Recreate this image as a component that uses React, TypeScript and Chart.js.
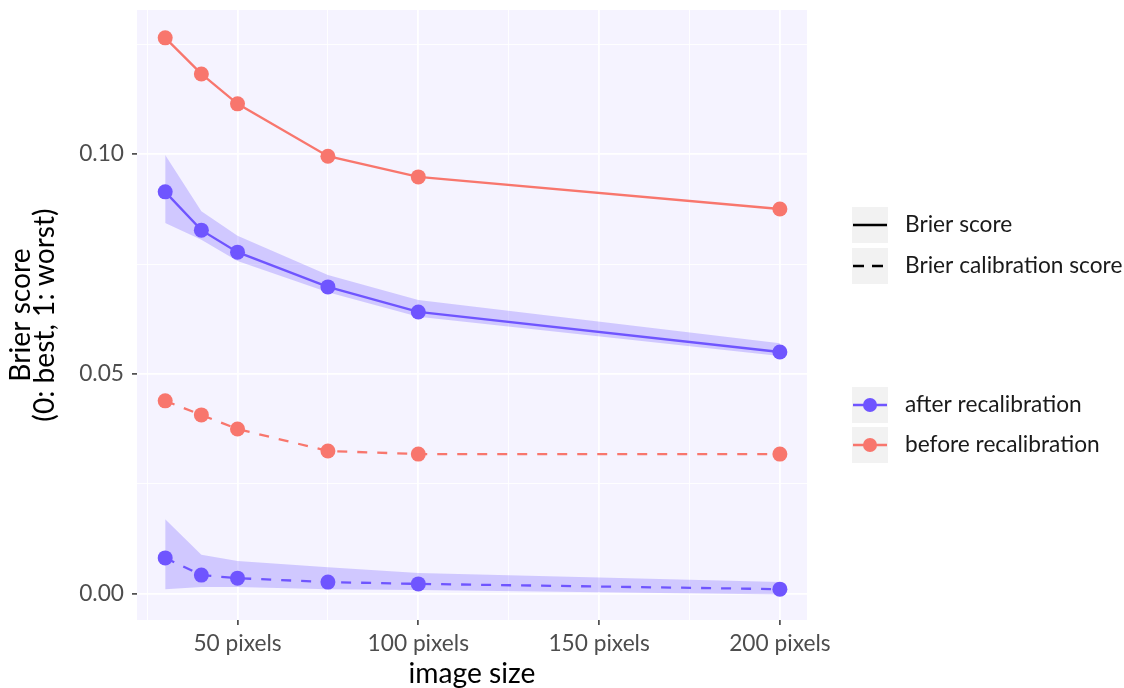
import React, { useEffect, useRef } from "react";
import { Chart, registerables } from "chart.js";

Chart.register(...registerables);

const imageSizes = [30, 40, 50, 75, 100, 200];
const beforeBrier = [0.1264, 0.1182, 0.1114, 0.0995, 0.0948, 0.0875];
const afterBrier = [0.0914, 0.0827, 0.0777, 0.0698, 0.0641, 0.055];
const afterBrierUpper = [0.0998, 0.087, 0.0814, 0.0725, 0.0668, 0.057];
const afterBrierLower = [0.0843, 0.0805, 0.0757, 0.0686, 0.063, 0.0541];
const beforeCalib = [0.0439, 0.0407, 0.0375, 0.0325, 0.0318, 0.0318];
const afterCalib = [0.0082, 0.0043, 0.0036, 0.0027, 0.0023, 0.0011];
const afterCalibUpper = [0.017, 0.0089, 0.0075, 0.0061, 0.0048, 0.0027];
const afterCalibLower = [0.0011, 0.0016, 0.0016, 0.0011, 0.0009, -0.0001];

const xTickValues = [25, 50, 75, 100, 125, 150, 175, 200];
const xMajorTicks = [50, 100, 150, 200];
const yTickValues = [0, 0.025, 0.05, 0.075, 0.1, 0.125];
const yMajorTicks = [0, 0.05, 0.1];

const linetypeLegend = ["Brier score", "Brier calibration score"];
const colorLegend = ["after recalibration", "before recalibration"];

const RED = "#F8766D";
const BLUE = "#6F55FF";
const BAND = "rgba(111,85,255,0.27)";
const FONT = "Lato";
const SMALL = 22.7;
const BIG = 28.2;
const PANEL_TOP = 10;

const pts = (ys: number[]) => imageSizes.map((x, i) => ({ x, y: ys[i] }));
const isMajor = (v: number, majors: number[]) => majors.some((m) => Math.abs(m - v) < 1e-9);

const fixAreaPlugin = {
  id: "fixArea",
  afterLayout(chart: any) {
    const a = chart.chartArea;
    a.top = PANEL_TOP;
    a.height = a.bottom - PANEL_TOP;
    const y = chart.scales.y;
    y.top = PANEL_TOP;
    y.height = y.bottom - PANEL_TOP;
    y.configure();
  },
};

const bgPlugin = {
  id: "panelBg",
  beforeDraw(chart: any) {
    const { ctx, chartArea: a } = chart;
    ctx.save();
    ctx.fillStyle = "#FFFFFF";
    ctx.fillRect(0, 0, chart.width, chart.height);
    ctx.fillStyle = "#F5F3FF";
    ctx.fillRect(a.left, a.top, a.right - a.left, a.bottom - a.top);
    ctx.restore();
  },
};

const legendPlugin = {
  id: "ggLegend",
  afterDraw(chart: any) {
    const ctx = chart.ctx;
    ctx.save();
    const kx = 852;
    const kw = 36;
    const tx = 905;
    const drawKey = (cy: number) => {
      ctx.fillStyle = "#F2F2F2";
      ctx.fillRect(kx, cy - 18, kw, 36);
    };
    ctx.font = `${SMALL}px ${FONT}`;
    ctx.textBaseline = "middle";
    ctx.textAlign = "left";
    const ltY = [225, 266];
    ltY.forEach((cy, i) => {
      drawKey(cy);
      ctx.strokeStyle = "#000000";
      ctx.lineWidth = 2.6;
      ctx.setLineDash(i === 0 ? [] : [11, 8]);
      ctx.beginPath();
      ctx.moveTo(kx + 1, cy);
      ctx.lineTo(kx + kw - 1, cy);
      ctx.stroke();
      ctx.setLineDash([]);
      ctx.fillStyle = "#1A1A1A";
      ctx.fillText(linetypeLegend[i], tx, cy);
    });
    const cY = [405, 445];
    const cols = [BLUE, RED];
    cY.forEach((cy, i) => {
      drawKey(cy);
      ctx.strokeStyle = cols[i];
      ctx.lineWidth = 2.3;
      ctx.beginPath();
      ctx.moveTo(kx + 1, cy);
      ctx.lineTo(kx + kw - 1, cy);
      ctx.stroke();
      ctx.fillStyle = cols[i];
      ctx.beginPath();
      ctx.arc(kx + kw / 2, cy, 7, 0, Math.PI * 2);
      ctx.fill();
      ctx.fillStyle = "#1A1A1A";
      ctx.fillText(colorLegend[i], tx, cy);
    });
    ctx.restore();
  },
};

export default function App() {
  const ref = useRef<HTMLCanvasElement | null>(null);

  useEffect(() => {
    if (!ref.current) return;
    const bandDs = (data: number[], fill: any) => ({
      data: pts(data),
      borderColor: "rgba(0,0,0,0)",
      backgroundColor: BAND,
      pointRadius: 0,
      fill,
      order: 10,
      showLine: true,
    });
    const lineDs = (data: number[], color: string, dashed: boolean) => ({
      data: pts(data),
      borderColor: color,
      backgroundColor: color,
      borderWidth: 2.3,
      borderDash: dashed ? [10, 10] : [],
      pointRadius: 7.5,
      pointBackgroundColor: color,
      pointBorderWidth: 0,
      fill: false,
      order: 1,
      tension: 0,
    });

    const chart = new Chart(ref.current, {
      type: "line",
      data: {
        datasets: [
          bandDs(afterBrierLower, false),
          bandDs(afterBrierUpper, "-1"),
          bandDs(afterCalibLower, false),
          bandDs(afterCalibUpper, "-1"),
          lineDs(beforeBrier, RED, false),
          lineDs(afterBrier, BLUE, false),
          lineDs(beforeCalib, RED, true),
          lineDs(afterCalib, BLUE, true),
        ] as any,
      },
      options: {
        animation: false,
        responsive: false,
        devicePixelRatio: 1,
        layout: { autoPadding: false, padding: { top: PANEL_TOP, right: 317, left: 0, bottom: 0 } } as any,
        plugins: {
          legend: { display: false },
          tooltip: { enabled: false },
          filler: { drawTime: "beforeDatasetsDraw" },
        } as any,
        scales: {
          x: {
            type: "linear",
            min: 22.2,
            max: 207.5,
            afterBuildTicks: (s: any) => {
              s.ticks = xTickValues.map((v) => ({ value: v }));
            },
            afterFit: (s: any) => {
              s.height = 68;
            },
            ticks: {
              autoSkip: false,
              maxRotation: 0,
              padding: 5,
              color: "#4D4D4D",
              font: { family: FONT, size: SMALL },
              callback: (v: any) => (isMajor(Number(v), xMajorTicks) ? `${v} pixels` : ""),
            },
            grid: {
              color: "#FFFFFF",
              lineWidth: (c: any) => (isMajor(c.tick?.value, xMajorTicks) ? 1.8 : 0.9),
              tickColor: (c: any) => (isMajor(c.tick?.value, xMajorTicks) ? "#333333" : "rgba(0,0,0,0)"),
              tickLength: 5,
              tickWidth: 1.5,
            } as any,
            border: { display: false },
            title: {
              display: true,
              text: "image size",
              color: "#000000",
              font: { family: FONT, size: BIG, lineHeight: 1.0 },
              padding: { top: 0, bottom: 0 },
            },
          },
          y: {
            type: "linear",
            min: -0.00591,
            max: 0.13273,
            afterBuildTicks: (s: any) => {
              s.ticks = yTickValues.map((v) => ({ value: v }));
            },
            afterFit: (s: any) => {
              s.width = 137;
            },
            ticks: {
              autoSkip: false,
              padding: 8,
              color: "#4D4D4D",
              font: { family: FONT, size: SMALL },
              callback: (v: any) => (isMajor(Number(v), yMajorTicks) ? Number(v).toFixed(2) : ""),
            },
            grid: {
              color: "#FFFFFF",
              lineWidth: (c: any) => (isMajor(c.tick?.value, yMajorTicks) ? 1.8 : 0.9),
              tickColor: (c: any) => (isMajor(c.tick?.value, yMajorTicks) ? "#333333" : "rgba(0,0,0,0)"),
              tickLength: 5,
              tickWidth: 1.5,
            } as any,
            border: { display: false },
            title: {
              display: true,
              text: ["Brier score", "(0: best, 1: worst)"],
              color: "#000000",
              font: { family: FONT, size: BIG, lineHeight: 0.85 },
              padding: { top: 9, bottom: 0 },
            },
          },
        },
      },
      plugins: [fixAreaPlugin, bgPlugin, legendPlugin],
    });
    return () => chart.destroy();
  }, []);

  return (
    <div style={{ position: "fixed", left: 0, top: 0, width: 1124, height: 688 }}>
      <canvas ref={ref} width={1124} height={688} style={{ width: 1124, height: 688, display: "block" }} />
    </div>
  );
}
